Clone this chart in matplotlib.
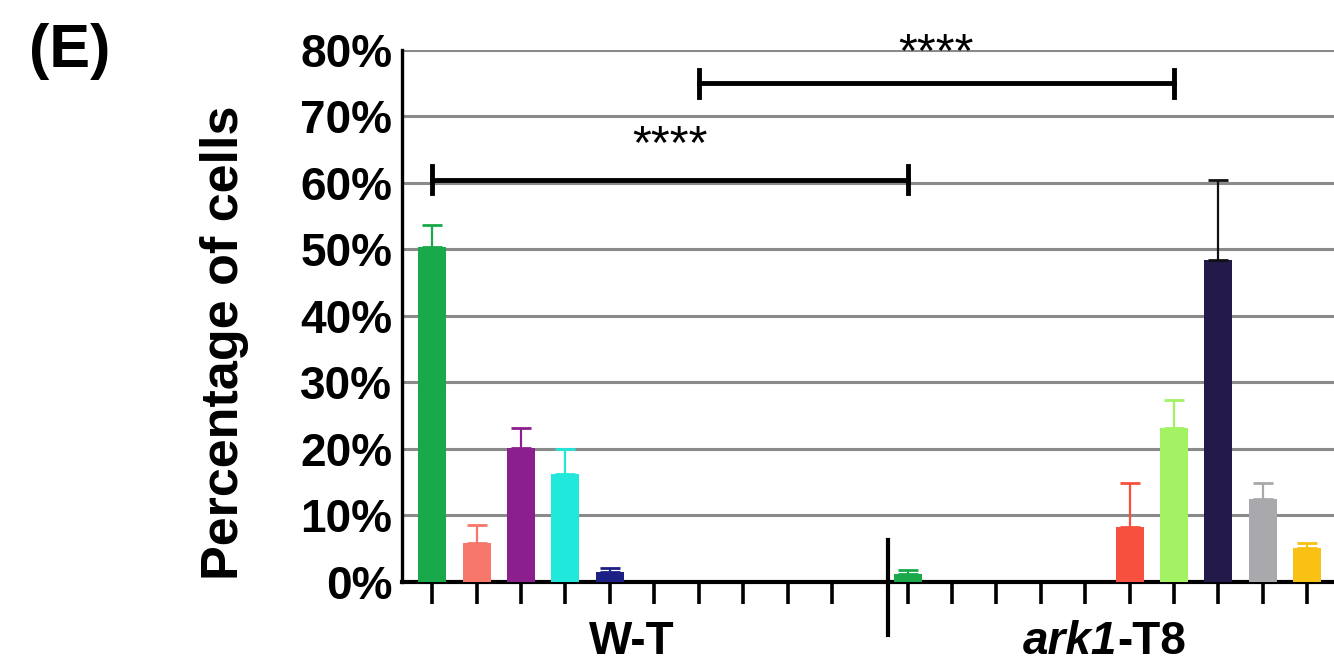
import matplotlib.pyplot as plt
import numpy as np

plt.rcParams['font.family'] = ['Liberation Sans', 'DejaVu Sans']

# values (percent of cells)
wt_values = [50.4, 5.9, 20.1, 16.2, 1.5, 0, 0, 0, 0, 0]
wt_errors = [3.3, 2.7, 3.1, 3.8, 0.6, 0, 0, 0, 0, 0]
ark_values = [1.2, 0, 0, 0, 0, 8.3, 23.2, 48.4, 12.5, 5.1]
ark_errors = [0.6, 0, 0, 0, 0, 6.6, 4.2, 12.1, 2.4, 0.7]
bar_colors = ['#19a84a', '#f7786a', '#8c1f8e', '#20e8da', '#1b1f86',
              '#f8503f', '#a2f264', '#241a4a', '#a9a8ad', '#f8c114']
err_colors = ['#19a84a', '#f7786a', '#8c1f8e', '#20e8da', '#1b1f86',
              '#f8503f', '#a2f264', '#111111', '#a9a8ad', '#f8c114']
group_labels = ['W-T', 'ark1-T8']
y_ticks = [0, 10, 20, 30, 40, 50, 60, 70, 80]

# layout
ark_offset = 10.7
divider_x = 10.25
bar_w = 0.63

fig = plt.figure(figsize=(13.34, 6.64), dpi=100)
ax = fig.add_axes([0.3013, 0.1235, 0.6987, 0.8012])

x_wt = np.arange(len(wt_values))
x_ark = np.arange(len(ark_values)) + ark_offset

for xs, vals, errs in [(x_wt, wt_values, wt_errors), (x_ark, ark_values, ark_errors)]:
    for i, (x, v, e) in enumerate(zip(xs, vals, errs)):
        if v <= 0:
            continue
        ax.bar(x, v, width=bar_w, color=bar_colors[i], zorder=3)
        ax.errorbar(x, v, yerr=[[0], [e]], ecolor=err_colors[i], elinewidth=1.6,
                    capsize=7, capthick=2, fmt='none', zorder=4)

ax.set_xlim(-0.68, 20.3)
ax.set_ylim(0, 80)
ax.set_yticks(y_ticks)
ax.set_yticklabels([f'{t}%' for t in y_ticks], fontsize=33, fontweight='bold')
ax.yaxis.grid(True, color='#8a8a8a', linewidth=2.2, zorder=0)
ax.set_axisbelow(True)
ax.tick_params(axis='y', length=0, pad=7)
ax.set_xticks(list(x_wt) + list(x_ark))
ax.set_xticklabels([])
ax.tick_params(axis='x', direction='out', length=16, width=2.6, color='black')

for s in ['top', 'right']:
    ax.spines[s].set_visible(False)
ax.spines['left'].set_linewidth(2.4)
ax.spines['bottom'].set_linewidth(3)

# y label, placed by hand (it sits a bit below the axis centre in the reference)
fig.text(0.168, 0.4834, 'Percentage of cells', rotation=90, fontsize=37.5,
         fontweight='bold', ha='center', va='center')

# group separator
ax.plot([divider_x, divider_x], [-8, 6.3], color='black', lw=3, clip_on=False, zorder=5)

# group labels
ax.text(4.5, -9.0, group_labels[0], ha='center', va='center', fontsize=33, fontweight='bold')
ax.text(ark_offset + 4.72, -9.0, 'ark1', ha='right', va='center', fontsize=33,
        fontweight='bold', style='italic')
ax.text(ark_offset + 4.72, -9.0, '-T8', ha='left', va='center', fontsize=33, fontweight='bold')

# significance brackets
def bracket(x1, x2, y, label, ly):
    ax.plot([x1, x2], [y, y], color='black', lw=3.5, clip_on=False, zorder=5)
    for xx in (x1, x2):
        ax.plot([xx, xx], [y - 2, y + 2], color='black', lw=3.5, clip_on=False, zorder=5)
    ax.text((x1 + x2) / 2, ly, label, ha='center', va='baseline', fontsize=35,
            clip_on=False)

bracket(x_wt[0], x_ark[0], 60.5, '****', 63.8)
bracket(x_wt[6], x_ark[6], 75, '****', 77.6)

fig.text(0.052, 0.923, '(E)', fontsize=44, fontweight='bold', ha='center', va='center')

fig.savefig('out.png', dpi=100)
